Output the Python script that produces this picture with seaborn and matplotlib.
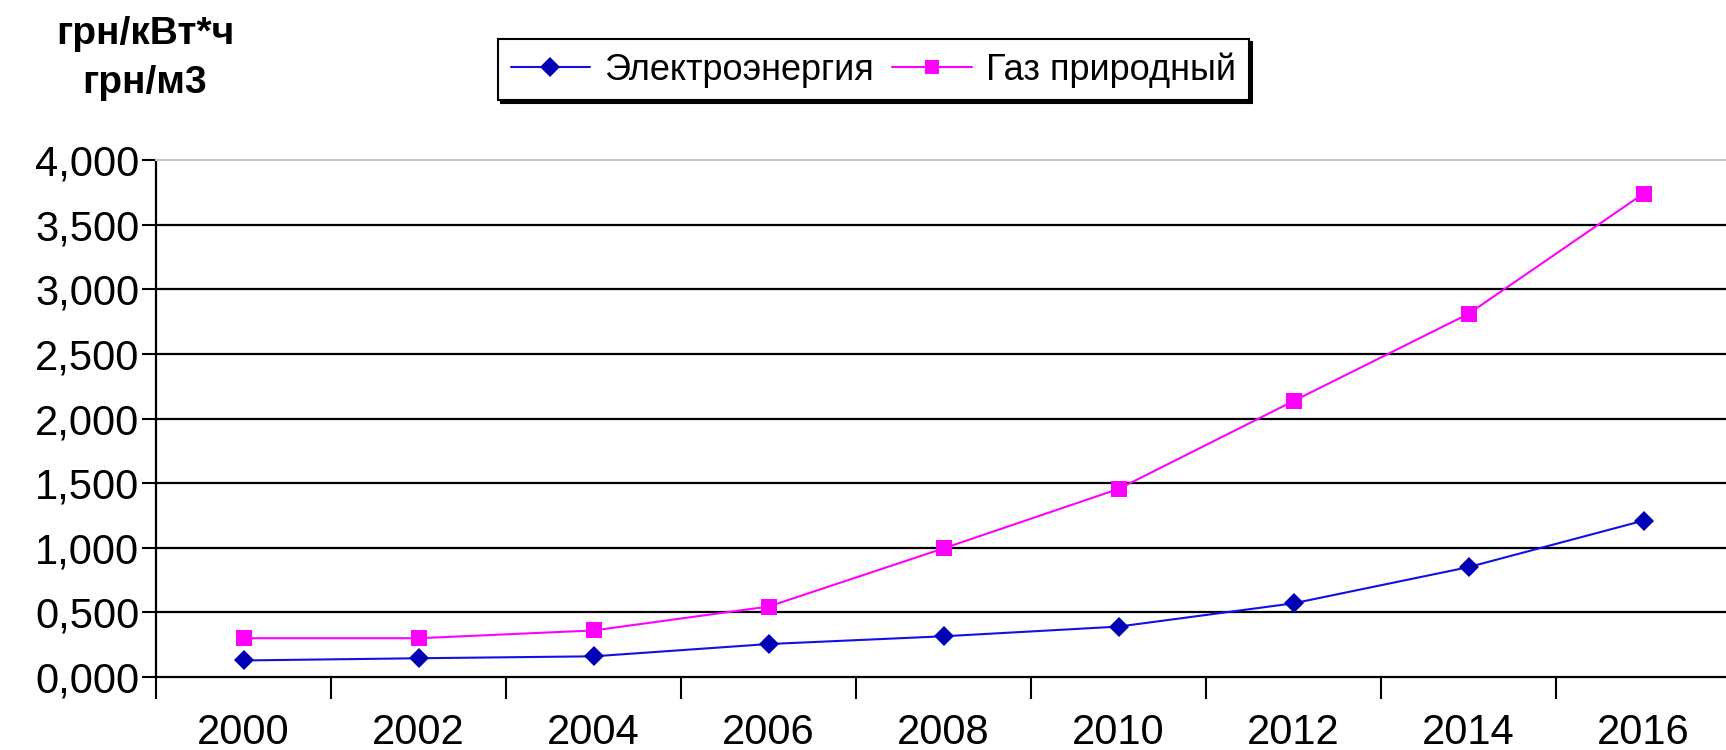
import pandas as pd
import seaborn as sns
import matplotlib.pyplot as plt
from matplotlib.ticker import FuncFormatter, FixedLocator

# данные
years = ["2000", "2002", "2004", "2006", "2008", "2010", "2012", "2014", "2016"]
electro = [0.128, 0.145, 0.160, 0.255, 0.315, 0.390, 0.570, 0.850, 1.210]
gas = [0.300, 0.300, 0.360, 0.545, 0.995, 1.455, 2.135, 2.810, 3.740]
series_names = ["Электроэнергия", "Газ природный"]

df = pd.DataFrame({
    "pos": list(range(len(years))) * 2,
    "value": electro + gas,
    "series": [series_names[0]] * len(years) + [series_names[1]] * len(years),
})

sns.set_style("white")
plt.rcParams["font.family"] = ["Liberation Sans", "DejaVu Sans"]
plt.rcParams["text.color"] = "black"
plt.rcParams["xtick.color"] = "black"
plt.rcParams["ytick.color"] = "black"

fig = plt.figure(figsize=(17.26, 7.5), dpi=100)
ax = fig.add_axes([156 / 1726, 73 / 750, 1575 / 1726, 517 / 750])

palette = {series_names[0]: "#1010E8", series_names[1]: "#FF00FF"}
sns.lineplot(data=df, x="pos", y="value", hue="series", style="series",
             palette=palette, markers={series_names[0]: "D", series_names[1]: "s"},
             dashes=False, linewidth=1.5, markersize=11, markeredgewidth=0,
             ax=ax, legend=False)
# тёмные ромбы у электроэнергии
ax.lines[0].set_markerfacecolor("#0000B4")
ax.lines[0].set_markersize(10)

ax.set_xlim(-0.5, len(years) - 0.5)
ax.set_ylim(0, 4)
ax.set_xlabel("")
ax.set_ylabel("")

# сетка
for v in [0.5, 1.0, 1.5, 2.0, 2.5, 3.0, 3.5]:
    ax.axhline(v, color="black", lw=1.6, zorder=0)

ax.set_yticks([0, 0.5, 1, 1.5, 2, 2.5, 3, 3.5, 4])
ax.yaxis.set_major_formatter(FuncFormatter(lambda v, p: f"{v:.3f}".replace(".", ",")))
ax.tick_params(axis="y", direction="out", length=10, width=1.5, color="black",
               labelsize=30, labelcolor="black", pad=2, left=True)

ax.set_xticks(range(len(years)))
ax.set_xticklabels(years)
ax.tick_params(axis="x", which="major", length=0, labelsize=30, labelcolor="black", pad=26)
ax.xaxis.set_minor_locator(FixedLocator([i - 0.5 for i in range(len(years) + 1)]))
ax.tick_params(axis="x", which="minor", direction="out", length=16, width=1.5,
               color="black", bottom=True)

for s in ["left", "bottom"]:
    ax.spines[s].set_color("black")
    ax.spines[s].set_linewidth(1.6)
ax.spines["top"].set_color("#C8C8C8")
ax.spines["top"].set_linewidth(1.5)
ax.spines["right"].set_visible(False)

# легенда
handles = [
    plt.Line2D([], [], color="#1010E8", lw=1.5, marker="D", markersize=10,
               markerfacecolor="#0000B4", markeredgewidth=0),
    plt.Line2D([], [], color="#FF00FF", lw=1.5, marker="s", markersize=10,
               markeredgewidth=0),
]
leg = fig.legend(handles, series_names, loc="center", bbox_to_anchor=(0.506, 0.907),
                 ncol=2, fontsize=26, frameon=True, fancybox=False,
                 shadow={"color": "black", "alpha": 1}, handlelength=2.2,
                 handletextpad=0.4, columnspacing=0.5, borderpad=0.35)
leg.get_frame().set_edgecolor("black")
leg.get_frame().set_linewidth(1.5)
for t in leg.get_texts():
    t.set_color("black")

# единицы измерения
fig.text(0.084, 0.955, "грн/кВт*ч", ha="center", va="center", fontsize=28,
         fontweight="bold", color="black")
fig.text(0.084, 0.889, "грн/м3", ha="center", va="center", fontsize=28,
         fontweight="bold", color="black")

plt.savefig("out.png", dpi=100)
